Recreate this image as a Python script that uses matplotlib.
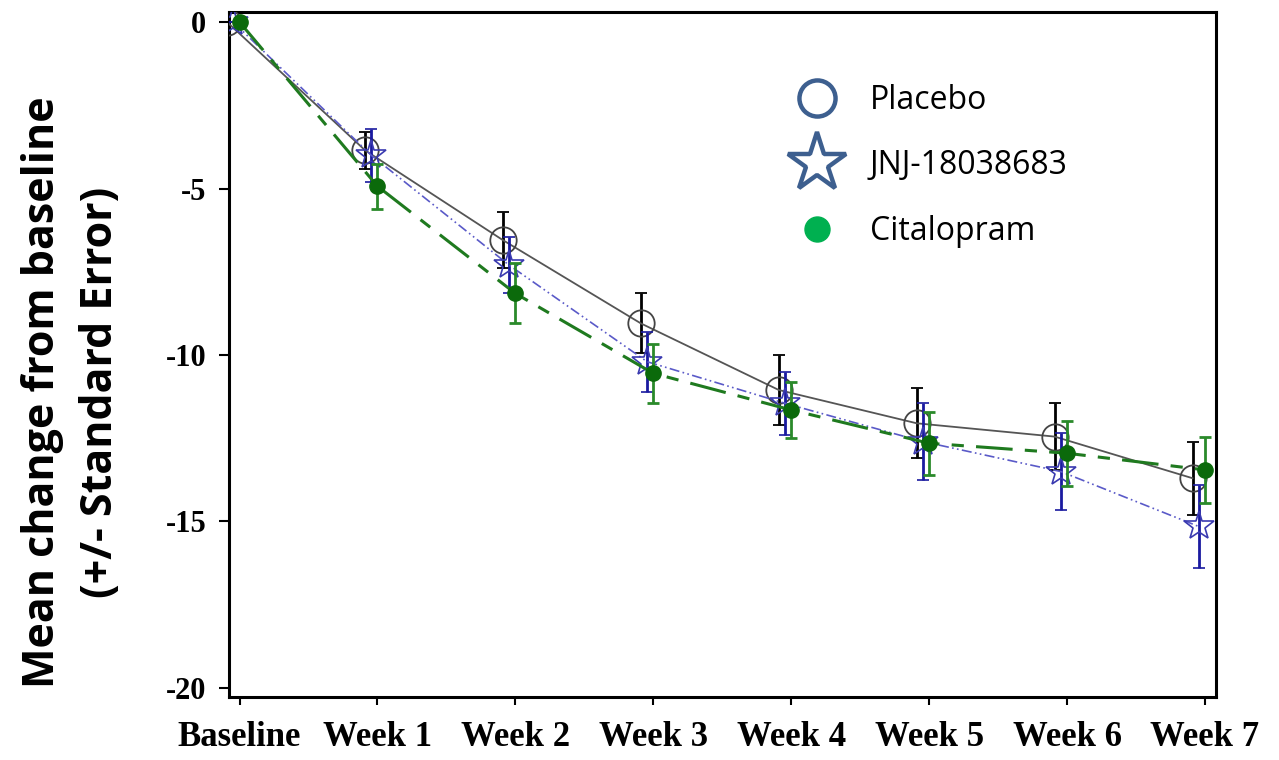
import matplotlib
matplotlib.use("Agg")
import matplotlib.pyplot as plt
from matplotlib.lines import Line2D
import numpy as np

categories = ["Baseline", "Week 1", "Week 2", "Week 3", "Week 4", "Week 5", "Week 6", "Week 7"]
placebo = [0.0, -3.85, -6.55, -9.05, -11.05, -12.05, -12.45, -13.7]
placebo_se = [0.0, 0.55, 0.85, 0.9, 1.05, 1.05, 1.0, 1.1]
jnj = [0.0, -4.0, -7.3, -10.2, -11.45, -12.6, -13.5, -15.15]
jnj_se = [0.0, 0.8, 0.85, 0.9, 0.95, 1.15, 1.15, 1.25]
citalopram = [0.0, -4.93, -8.15, -10.55, -11.65, -12.65, -12.95, -13.45]
citalopram_se = [0.0, 0.68, 0.9, 0.88, 0.85, 0.95, 0.97, 1.0]
yticks = [0, -5, -10, -15, -20]

fig = plt.figure(figsize=(12.79, 7.6), dpi=100)
ax = fig.add_axes([0.1787, 0.083, 0.772, 0.901])

x = np.arange(len(categories))

# Placebo
ax.errorbar(x - 0.09, placebo, yerr=placebo_se, color="#555555", lw=1.3, ls="-",
            marker="o", ms=19, mfc="none", mec="#444444", mew=1.3,
            ecolor="black", elinewidth=2, capsize=4.5, capthick=2, zorder=3)
# JNJ
ax.errorbar(x - 0.045, jnj, yerr=jnj_se, color="#5a5ac8", lw=1.2, ls=(0, (6, 2, 1, 2, 1, 2)),
            marker="*", ms=22, mfc="none", mec="#3a3ab0", mew=1.2,
            ecolor="#1a1aa0", elinewidth=2, capsize=4.5, capthick=2, zorder=4)
# Citalopram
ax.errorbar(x, citalopram, yerr=citalopram_se, color="#1f7a1f", lw=2.2, ls=(0, (12, 4, 4, 4)),
            marker="o", ms=11, mfc="#0b6a0b", mec="#0b6a0b",
            ecolor="#2a8a2a", elinewidth=2, capsize=4.5, capthick=2, zorder=5)

ax.set_xlim(-0.08, 7.08)
ax.set_ylim(-20.27, 0.3)
ax.set_xticks(x)
ax.set_xticklabels(categories, fontfamily="Liberation Serif", fontweight="bold", fontsize=25)
ax.set_yticks(yticks)
ax.set_yticklabels([str(v) for v in yticks], fontfamily="Liberation Serif", fontweight="bold", fontsize=22)
ax.tick_params(axis="x", direction="out", length=6, width=1.5, pad=11)
ax.tick_params(axis="y", direction="out", length=7, width=1.5, pad=9)
for s in ax.spines.values():
    s.set_linewidth(2.2)

fig.text(0.056, 0.484, "Mean change from baseline\n(+/- Standard Error)", rotation=90,
         ha="center", va="center", fontsize=31, fontweight="bold", fontfamily="Open Sans",
         linespacing=1.45)

handles = [
    Line2D([], [], ls="none", marker="o", ms=26, mfc="white", mec="#3d5f8f", mew=3.2),
    Line2D([], [], ls="none", marker="*", ms=44, mfc="white", mec="#3d5f8f", mew=3.2),
    Line2D([], [], ls="none", marker="o", ms=18, mfc="#00b050", mec="#00b050"),
]
leg = ax.legend(handles, ["Placebo", "JNJ-18038683", "Citalopram"], loc="upper left",
                bbox_to_anchor=(0.551, 0.914), frameon=False,
                prop={"family": "Open Sans", "size": 23}, labelspacing=1.02,
                handletextpad=0.65, borderaxespad=0)

fig.savefig("out.png", dpi=100)
